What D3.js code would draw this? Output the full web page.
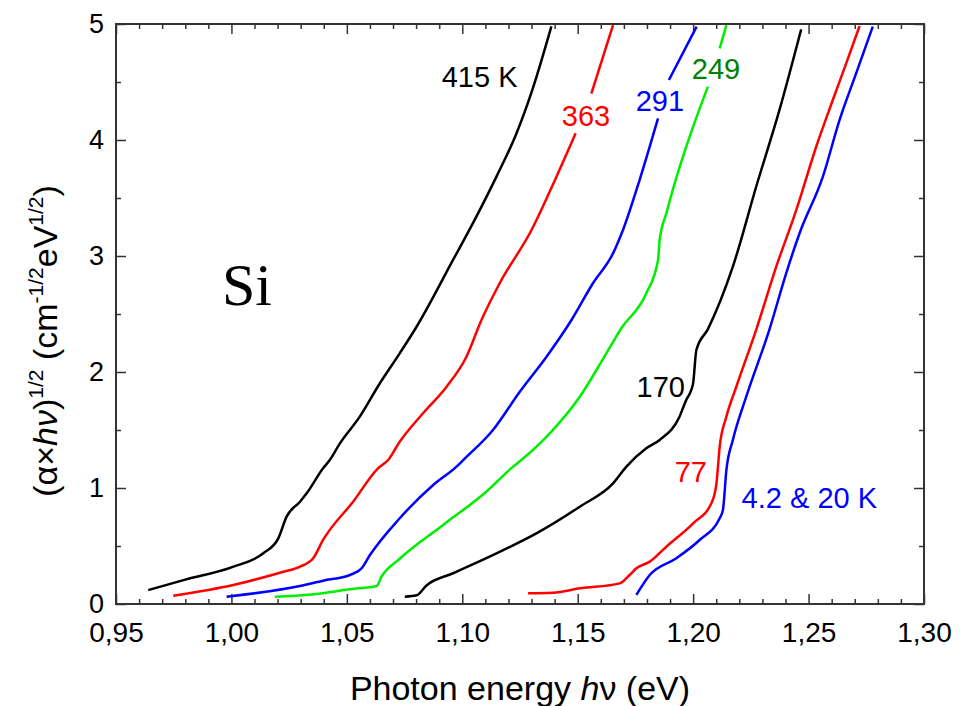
<!DOCTYPE html>
<html>
<head>
<meta charset="utf-8">
<script src="https://cdn.jsdelivr.net/npm/d3@7"></script>
<style>
  body { margin: 0; background: #fff; }
</style>
</head>
<body>
<div id="chart"></div>
<script>
const width = 979;
const height = 706;
const margin = {top: 24, right: 55, bottom: 102, left: 116};
const sans = "Liberation Sans, Arial, sans-serif";

// curves: [photon energy (eV), (alpha*hv)^1/2]
const t415 = [[0.964,0.12],[0.980,0.21],[1.000,0.316],[1.0138,0.437],[1.0203,0.566],[1.0239,0.753],[1.0297,0.882],[1.0326,0.954],[1.0397,1.17],[1.0426,1.241],[1.0470,1.385],[1.0556,1.615],[1.0643,1.903],[1.0729,2.161],[1.0802,2.39],[1.096,2.966],[1.1061,3.339],[1.1148,3.684],[1.1235,4.058],[1.1307,4.454],[1.1386,4.98]];
const t363 = [[0.9748,0.072],[1.0008,0.164],[1.021,0.27],[1.0297,0.322],[1.0354,0.394],[1.0397,0.552],[1.0527,0.882],[1.0635,1.17],[1.0679,1.241],[1.0729,1.399],[1.083,1.644],[1.0932,1.873],[1.1018,2.132],[1.1083,2.448],[1.1162,2.765],[1.13,3.224],[1.1408,3.684],[1.1491,4.058],[1.1559,4.40],[1.1653,4.99]];
const t291 = [[0.9979,0.063],[1.0297,0.155],[1.0397,0.201],[1.0513,0.25],[1.0564,0.308],[1.06,0.422],[1.0729,0.739],[1.0874,1.026],[1.0975,1.184],[1.1004,1.241],[1.1133,1.5],[1.1249,1.83],[1.1365,2.132],[1.1473,2.448],[1.1566,2.765],[1.1653,3.023],[1.1696,3.224],[1.1768,3.655],[1.1848,4.187],[1.1895,4.517],[1.2015,4.977]];
const t249 = [[1.0188,0.063],[1.0347,0.082],[1.0513,0.127],[1.0629,0.155],[1.065,0.235],[1.0729,0.39],[1.0917,0.681],[1.1105,0.97],[1.122,1.184],[1.1249,1.23],[1.1379,1.471],[1.1509,1.787],[1.1624,2.161],[1.1689,2.377],[1.1797,2.678],[1.1848,2.966],[1.1855,3.138],[1.1884,3.368],[1.1942,3.77],[1.2,4.115],[1.2064,4.46],[1.2115,4.79],[1.2144,4.99]];
const t170 = [[1.0751,0.063],[1.0802,0.075],[1.0845,0.16],[1.096,0.265],[1.1148,0.437],[1.1321,0.609],[1.1509,0.839],[1.1653,1.04],[1.1711,1.184],[1.1797,1.342],[1.1855,1.414],[1.1941,1.615],[1.197,1.759],[1.1992,1.845],[1.2,1.903],[1.2014,2.19],[1.2064,2.37],[1.2172,2.908],[1.2273,3.597],[1.2374,4.259],[1.2468,4.954]];
const t77 = [[1.1285,0.092],[1.1393,0.097],[1.1509,0.135],[1.1682,0.178],[1.1725,0.25],[1.1754,0.308],[1.1812,0.365],[1.1884,0.494],[1.2,0.696],[1.2079,0.868],[1.2101,1.04],[1.2115,1.356],[1.2144,1.615],[1.2187,1.873],[1.2274,2.37],[1.236,2.908],[1.2447,3.397],[1.2533,3.942],[1.2605,4.345],[1.2663,4.661],[1.2721,4.983]];
const t4 = [[1.1754,0.078],[1.1812,0.25],[1.1927,0.394],[1.2028,0.552],[1.2115,0.739],[1.2129,0.81],[1.2144,1.155],[1.2172,1.414],[1.223,1.787],[1.2331,2.37],[1.2403,2.851],[1.2461,3.196],[1.2562,3.684],[1.2634,4.172],[1.2706,4.575],[1.2778,4.977]];

// break in a curve where its label sits (y range)
const gap363 = [4.06, 4.39];
const gap291 = [4.19, 4.51];
const gap249 = [4.47, 4.78];

const xMajor = [0.95, 1.00, 1.05, 1.10, 1.15, 1.20, 1.25, 1.30];
const yMajor = [0, 1, 2, 3, 4, 5];

// labels: text, energy, value
const labels = [
  ["415 K", 1.0911, 4.457],
  ["363", 1.1431, 4.121],
  ["291", 1.1751, 4.25],
  ["249", 1.1994, 4.526],
  ["170", 1.1755, 1.784],
  ["77", 1.192, 1.052],
  ["4.2 & 20 K", 1.221, 0.828]
];

const series = [
  {data: t415, color: "#000000", gap: null},
  {data: t363, color: "#ff0000", gap: gap363},
  {data: t291, color: "#0000ff", gap: gap291},
  {data: t249, color: "#00ee00", gap: gap249},
  {data: t170, color: "#000000", gap: null},
  {data: t77, color: "#ff0000", gap: null},
  {data: t4, color: "#0000ff", gap: null}
];
const labelColors = ["#000", "#ff0000", "#0000ff", "#008000", "#000", "#ff0000", "#0000ff"];

const svg = d3.select("#chart")
    .append("svg")
    .attr("width", width)
    .attr("height", height)
    .style("font-family", sans);

svg.append("rect").attr("width", width).attr("height", height).attr("fill", "#fff");

const x = d3.scaleLinear().domain([0.95, 1.30]).range([margin.left, width - margin.right]);
const y = d3.scaleLinear().domain([0, 5]).range([height - margin.bottom, margin.top]);

const fmtX = d => d3.format(".2f")(d).replace(".", ",");
const xMinor = d3.range(0.95, 1.3001, 0.01).filter(v => !xMajor.some(m => Math.abs(m - v) < 1e-6));
const yMinor = d3.range(0.5, 5, 1);

const pw = x.range()[1] - x.range()[0];
const ph = y.range()[0] - y.range()[1];

function axisGroup(axis, tx, ty) {
  const g = svg.append("g").attr("transform", `translate(${tx},${ty})`).call(axis);
  g.select(".domain").remove();
  g.attr("font-family", null);
  g.selectAll(".tick line").attr("stroke", "#333").attr("stroke-width", 1.5);
  return g;
}

// bottom
const gb = axisGroup(d3.axisBottom(x).tickValues(xMajor).tickSize(-10).tickFormat(fmtX), 0, y(0));
gb.selectAll("text").attr("y", 38).attr("dy", 0).attr("font-size", 28).attr("fill", "#000");
axisGroup(d3.axisBottom(x).tickValues(xMinor).tickSize(-5).tickFormat(""), 0, y(0));
// top
axisGroup(d3.axisTop(x).tickValues(xMajor).tickSize(-10).tickFormat(""), 0, y(5));
axisGroup(d3.axisTop(x).tickValues(xMinor).tickSize(-5).tickFormat(""), 0, y(5));
// left
const gl = axisGroup(d3.axisLeft(y).tickValues(yMajor).tickSize(-10).tickPadding(12).tickFormat(d3.format("d")), x(0.95), 0);
gl.selectAll("text").attr("font-size", 27).attr("fill", "#000").attr("dy", "0.33em");
axisGroup(d3.axisLeft(y).tickValues(yMinor).tickSize(-5).tickFormat(""), x(0.95), 0);
// right
axisGroup(d3.axisRight(y).tickValues(yMajor).tickSize(-10).tickFormat(""), x(1.30), 0);
axisGroup(d3.axisRight(y).tickValues(yMinor).tickSize(-5).tickFormat(""), x(1.30), 0);

svg.append("rect")
    .attr("x", x(0.95)).attr("y", y(5))
    .attr("width", pw).attr("height", ph)
    .attr("fill", "none").attr("stroke", "#333").attr("stroke-width", 2);

// curves, split where a label interrupts them
const line = d3.line().x(d => x(d[0])).y(d => y(d[1])).curve(d3.curveMonotoneX);
series.forEach(s => {
  const pieces = [[s.data[0]]];
  for (let i = 1; i < s.data.length; i++) {
    const mid = (s.data[i - 1][1] + s.data[i][1]) / 2;
    if (s.gap && mid > s.gap[0] && mid < s.gap[1]) pieces.push([]);
    pieces[pieces.length - 1].push(s.data[i]);
  }
  pieces.forEach(p => {
    svg.append("path")
        .datum(p)
        .attr("d", line)
        .attr("fill", "none")
        .attr("stroke", s.color)
        .attr("stroke-width", 2.5)
        .attr("stroke-linejoin", "round");
  });
});

svg.selectAll(".lbl")
    .data(labels)
    .enter()
    .append("text")
    .attr("class", "lbl")
    .attr("x", d => x(d[1]))
    .attr("y", d => y(d[2]))
    .attr("font-size", 29)
    .attr("fill", (d, i) => labelColors[i])
    .text(d => d[0]);

svg.append("text")
    .attr("x", x(0.9959)).attr("y", y(2.578))
    .style("font-family", "Liberation Serif, Times New Roman, serif")
    .attr("font-size", 60)
    .text("Si");

// x axis title
const xt = svg.append("text")
    .attr("x", (x.range()[0] + x.range()[1]) / 2)
    .attr("y", 700)
    .attr("text-anchor", "middle")
    .attr("font-size", 34);
xt.append("tspan").text("Photon energy ");
xt.append("tspan").attr("font-style", "italic").text("h");
xt.append("tspan").text("ν (eV)");

// y axis title
const yt = svg.append("text")
    .attr("transform", "translate(57,341) rotate(-90)")
    .attr("text-anchor", "middle")
    .attr("font-size", 34);
yt.append("tspan").text("(α×");
yt.append("tspan").attr("font-style", "italic").text("hν");
yt.append("tspan").text(")");
yt.append("tspan").attr("font-size", 21).attr("dy", -14).text("1/2");
yt.append("tspan").attr("dy", 14).text(" (cm");
yt.append("tspan").attr("font-size", 21).attr("dy", -14).text("-1/2");
yt.append("tspan").attr("dy", 14).text("eV");
yt.append("tspan").attr("font-size", 21).attr("dy", -14).text("1/2");
yt.append("tspan").attr("dy", 14).text(")");
</script>
</body>
</html>
